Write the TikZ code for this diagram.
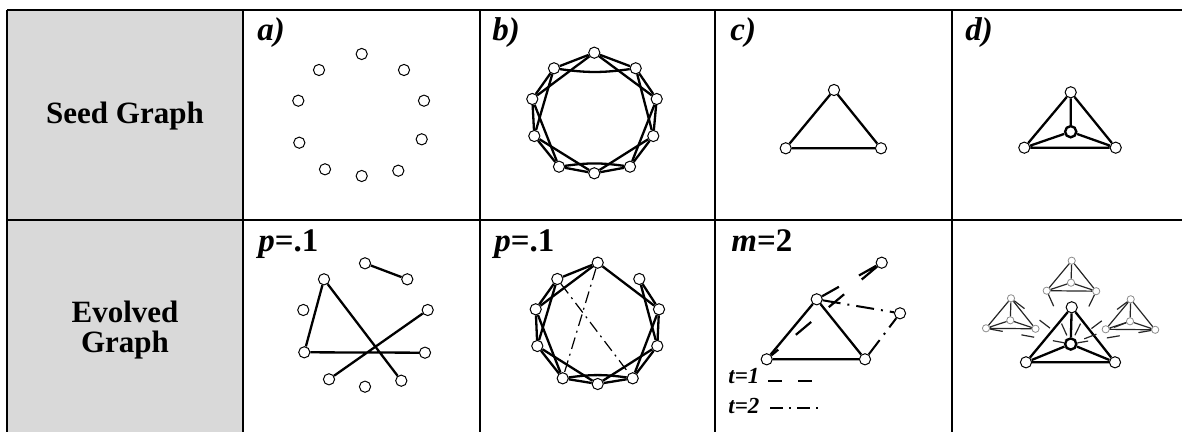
\documentclass[tikz,border=0pt]{standalone}
\usepackage{fontspec}
\setmainfont{Liberation Serif}

\begin{document}
\begin{tikzpicture}[x=0.5pt,y=-0.5pt]
  \tikzstyle{vtx}=[draw,circle,fill=white,inner sep=0pt,minimum size=5.6pt,line width=0.5pt]
  \tikzstyle{sml}=[draw=black!45,circle,fill=white,inner sep=0pt,minimum size=3.6pt,line width=0.4pt]
  \tikzstyle{edge}=[line width=1.15pt]
  \tikzstyle{thin}=[line width=0.6pt,black!85]
  \tikzstyle{tone}=[line width=1.1pt,dash pattern=on 10pt off 11.5pt]
  \tikzstyle{ttwo}=[line width=1pt,dash pattern=on 9pt off 3.5pt on 1pt off 3.5pt]
  \tikzstyle{rewire}=[line width=0.6pt,dash pattern=on 6pt off 2.5pt on 1pt off 2.5pt]
  \tikzstyle{link}=[line width=0.6pt,black!85,dash pattern=on 6.5pt off 9.5pt]
  \tikzstyle{head}=[align=center,font=\fontsize{15.5}{15}\selectfont\bfseries]
  \tikzstyle{tag}=[anchor=base west,inner sep=0pt,font=\fontsize{16.5}{17}\selectfont\bfseries\itshape]
  \tikzstyle{leg}=[anchor=base west,inner sep=0pt,font=\fontsize{11.5}{13}\selectfont\bfseries\itshape]

  \useasboundingbox (0,0) rectangle (1182,432);
  \clip (0,0) rectangle (1182,432);

  % table
  \fill[black!15] (7,10) rectangle (243,440);
  \draw[line width=1pt] (7,10) -- (1190,10) (7,220) -- (1190,220);
  \foreach \x in {7,243,480,715,952} \draw[line width=1pt] (\x,10) -- (\x,440);
  \node[head] (seed) at (125,116) {Seed Graph};
  \node[head] (evolved) at (125,330) {Evolved\\Graph};

  % column labels
  \node[tag] (la) at (257,41) {a)};
  \node[tag] (lb) at (492,41) {b)};
  \node[tag] (lc) at (730,41) {c)};
  \node[tag] (ld) at (965,41) {d)};
  \node[tag] (pa) at (258,252) {{\itshape p}\upshape=.1};
  \node[tag] (pb) at (494,252) {{\itshape p}\upshape=.1};
  \node[tag] (mc) at (731,252) {{\itshape m}\upshape=2};

  % a) empty ring
  \foreach \i/\x/\y in {0/361.7/54,1/404/70,2/424/100.7,3/421.7/139.3,4/398.3/170.7,
      5/361.7/176,6/325/169.3,7/299.3/142.7,8/298.3/100.7,9/319/70}
    \node[vtx] (a\i) at (\x,\y) {};

  % a) random graph
  \foreach \i/\x/\y in {0/365/263.3,1/407.3/279.3,2/427.7/310,3/425/352.7,4/401.3/380.7,
      5/365/386.7,6/329/379.3,7/304.3/352.3,8/303.3/310,9/324/279.3}
    \node[vtx] (e\i) at (\x,\y) {};
  \draw[edge] (e0) -- (e1) (e9) -- (e7) (e9) -- (e4) (e7) -- (e3) (e6) -- (e2);

  % b) ring lattice
  \foreach \i/\x/\y in {0/594.3/52.7,1/635.7/68.3,2/656.7/99,3/653.3/136,4/630/166.7,
      5/594.3/173.3,6/559/166.7,7/534.3/136,8/532.3/99,9/554/68.3}
    \node[vtx] (b\i) at (\x,\y) {};
  \foreach \i in {0,...,9} {
    \pgfmathtruncatemacro\j{mod(\i+1,10)}
    \draw[edge] (b\i) -- (b\j);
  }
  \foreach \i/\k in {0/2,1/3,2/4,3/5,5/7,6/8,7/9,8/0}
    \draw[edge] (b\i) -- (b\k);
  \draw[edge] (b9) to[bend right=8] (b1) (b4) to[bend right=8] (b6);

  % b) rewired lattice
  \foreach \i/\x/\y in {0/597.7/262.7,1/639.3/279,2/659/309.3,3/657.3/346,4/632.7/378.3,
      5/597.7/384,6/562.7/378.3,7/537.3/346,8/535.7/309.3,9/557.3/279}
    \node[vtx] (f\i) at (\x,\y) {};
  \foreach \i/\j in {0/2,1/2,1/3,2/3,2/4,3/4,3/5,4/5,5/6,5/7,6/7,6/8,7/8,7/9,8/9,8/0,9/0}
    \draw[edge] (f\i) -- (f\j);
  \draw[edge] (f4) to[bend right=8] (f6);
  \draw[rewire] (f0) -- (f6) (f9) -- (f4);

  % c) triangle
  \node[vtx] (ct) at (834,90) {};
  \node[vtx] (cl) at (785.7,148.3) {};
  \node[vtx] (cr) at (881,148.3) {};
  \draw[edge] (ct) -- (cl) -- (cr) -- (ct);

  % c) preferential attachment
  \node[vtx] (gt) at (816.7,299.3) {};
  \node[vtx] (gl) at (766.7,359.3) {};
  \node[vtx] (gr) at (865,359.3) {};
  \node[vtx] (gn1) at (881.7,262.7) {};
  \node[vtx] (gn2) at (900,313.3) {};
  \draw[edge] (gt) -- (gl) -- (gr) -- (gt);
  \draw[tone] (gn1) -- (gt) (gn1) -- (gl);
  \draw[ttwo] (gt) -- (gn2) (gr) -- (gn2);
  \node[leg] (t1) at (728,383) {t=1};
  \node[leg] (t2) at (728,413) {t=2};
  \coordinate (t1a) at (768,381);
  \coordinate (t1b) at (813,381);
  \coordinate (t2a) at (770,408);
  \coordinate (t2b) at (821,408);
  \draw[line width=0.6pt,dash pattern=on 7pt off 8pt] (t1a) -- (t1b);
  \draw[line width=0.6pt,dash pattern=on 6.5pt off 3pt on 1pt off 3pt] (t2a) -- (t2b);

  % d) tetrahedron
  \node[vtx] (dt) at (1070.7,92.3) {};
  \node[vtx,line width=1.2pt] (dm) at (1070.7,131.7) {};
  \node[vtx] (dl) at (1024.3,147.7) {};
  \node[vtx] (dr) at (1115.7,147.7) {};
  \draw[edge] (dt) -- (dl) -- (dr) -- (dt) (dm) -- (dt) (dm) -- (dl) (dm) -- (dr);

  % d) hierarchical copies
  \node[vtx] (ht) at (1071.7,307.3) {};
  \node[vtx,line width=1.2pt] (hm) at (1070.7,344) {};
  \node[vtx] (hl) at (1026,362.3) {};
  \node[vtx] (hr) at (1115,362.3) {};
  \draw[edge] (ht) -- (hl) -- (hr) -- (ht) (hm) -- (ht) (hm) -- (hl) (hm) -- (hr);
  \foreach \n/\x/\y in {p/1071.7/260.7,q/1011/298.3,r/1130.7/299.3} {
    \node[sml] (\n t) at (\x,\y) {};
    \node[sml] (\n m) at (\x-0.7,\y+22) {};
    \node[sml] (\n l) at (\x-25,\y+30) {};
    \node[sml] (\n r) at (\x+24.5,\y+30.5) {};
    \draw[thin] (\n t) -- (\n l) -- (\n r) -- (\n t) (\n m) -- (\n t) (\n m) -- (\n l) (\n m) -- (\n r);
  }
  \draw[link] (pl) -- (hm) (pr) -- (hm) (qt) -- (hm) (ql) -- (hm)
    (rt) -- (hm) (rm) -- (hm) (rr) -- (hm);
\end{tikzpicture}
\end{document}
